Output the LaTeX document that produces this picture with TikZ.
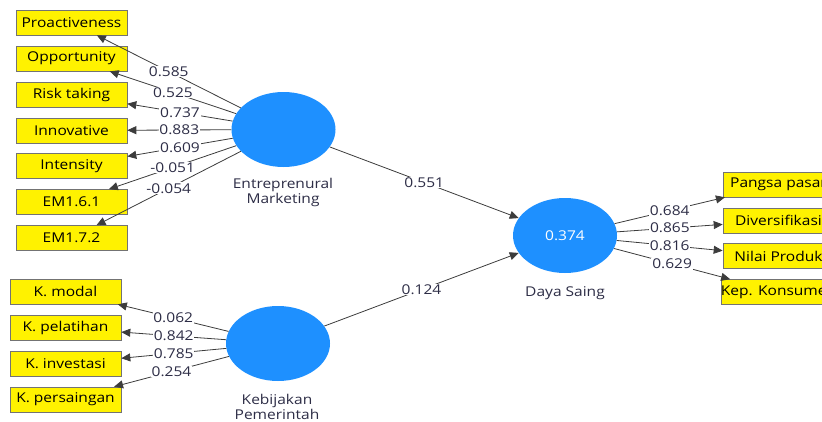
\documentclass[tikz,border=0pt]{standalone}
\usepackage{fontspec}
\setmainfont{Open Sans}[FakeStretch=1.15]
\usetikzlibrary{shapes.geometric,arrows.meta}
\definecolor{lvblue}{RGB}{30,144,255}
\definecolor{lineg}{RGB}{60,60,60}
\definecolor{labc}{RGB}{45,45,70}
\begin{document}
\begin{tikzpicture}[x=1pt,y=-1pt,
  ind/.style={draw=black!55,line width=0.6pt,fill=yellow,minimum width=111pt,minimum height=25pt,inner sep=0pt,font=\fontsize{13.5}{15}\selectfont},
  lv/.style={ellipse,fill=lvblue,minimum width=104pt,minimum height=75pt,inner sep=0pt,font=\fontsize{13.5}{15}\selectfont,text=white},
  lvlab/.style={align=center,font=\fontsize{13.5}{15}\selectfont,text=labc},
  arr/.style={draw=lineg,line width=0.8pt,-{Triangle[length=9pt,width=8pt]}},
  wt/.style={fill=white,inner sep=0.8pt,text=labc,font=\fontsize{13.5}{15}\selectfont}]
\useasboundingbox (0,0) rectangle (822,421);
\clip (0,0) rectangle (822,421);
% latent variables
\node[lv] (EM) at (283.5,129.5) {};
\node[lv] (KP) at (278,343.5) {};
\node[lv] (DS) at (565,235.5) {0.374};
\node[lvlab] (EMl) at (283,192.5) {Entreprenural\\Marketing};
\node[lvlab] (KPl) at (277,407) {Kebijakan\\Pemerintah};
\node[lvlab] (DSl) at (565,293) {Daya Saing};
% EM indicators
\node[ind] (p1) at (71.5,22.5) {Proactiveness};
\node[ind] (p2) at (71.5,58.5) {Opportunity};
\node[ind] (p3) at (71.5,94.5) {Risk taking};
\node[ind] (p4) at (71.5,130.5) {Innovative};
\node[ind] (p5) at (71.5,166) {Intensity};
\node[ind] (p6) at (71.5,202) {EM1.6.1};
\node[ind] (p7) at (71.5,238) {EM1.7.2};
% KP indicators
\node[ind] (k1) at (65.5,291.5) {K. modal};
\node[ind] (k2) at (65.5,328) {K. pelatihan};
\node[ind] (k3) at (65.5,363.5) {K. investasi};
\node[ind] (k4) at (65.5,399.5) {K. persaingan};
% DS indicators
\node[ind] (d1) at (778.5,184.5) {Pangsa pasar};
\node[ind] (d2) at (778.5,220.5) {Diversifikasi};
\node[ind] (d3) at (778.5,256) {Nilai Produk};
\node[ind] (d4) at (778.5,292) {Kep. Konsumen};
% EM loadings
\draw[arr] (EM) -- node[wt] {0.585} (p1);
\draw[arr] (EM) -- node[wt] {0.525} (p2);
\draw[arr] (EM) -- node[wt] {0.737} (p3);
\draw[arr] (EM) -- node[wt] {0.883} (p4);
\draw[arr] (EM) -- node[wt] {0.609} (p5);
\draw[arr] (EM) -- node[wt] {-0.051} (p6);
\draw[arr] (EM) -- node[wt] {-0.054} (p7);
% KP loadings
\draw[arr] (KP) -- node[wt] {0.062} (k1);
\draw[arr] (KP) -- node[wt] {0.842} (k2);
\draw[arr] (KP) -- node[wt] {0.785} (k3);
\draw[arr] (KP) -- node[wt] {0.254} (k4);
% DS loadings
\draw[arr] (DS) -- node[wt] {0.684} (d1);
\draw[arr] (DS) -- node[wt] {0.865} (d2);
\draw[arr] (DS) -- node[wt] {0.816} (d3);
\draw[arr] (DS) -- node[wt] {0.629} (d4);
% structural paths
\draw[arr] (EM) -- node[wt] {0.551} (DS);
\draw[arr] (KP) -- node[wt] {0.124} (DS);
\end{tikzpicture}
\end{document}
